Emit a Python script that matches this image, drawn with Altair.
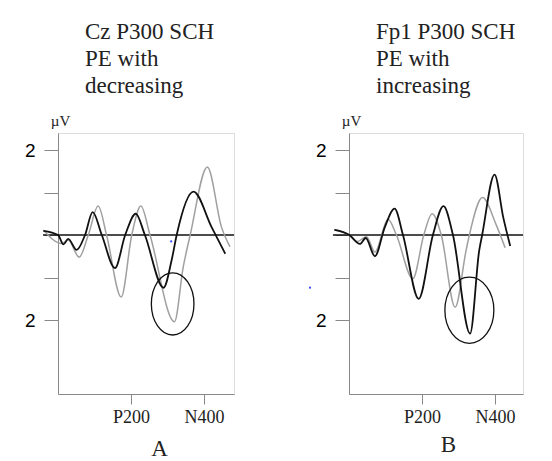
import altair as alt
import pandas as pd

# ---- Panel A (Cz) : time in ms, amplitude in µV ----
a_black_t = [-40, 0, 15, 28, 51, 74, 95, 120, 156, 184, 213, 238, 289, 311, 325, 371, 421, 458]
a_black_v = [0.10, 0.0, -0.22, -0.09, -0.35, 0.0, 0.54, 0.0, -0.78, 0.0, 0.50, 0.0, -1.24, -0.6, 0.0, 1.02, 0.18, -0.44]
a_gray_t = [-40, 10, 28, 58, 83, 110, 133, 173, 202, 227, 252, 319, 343, 362, 409, 448, 471]
a_gray_v = [0.12, -0.2, -0.12, -0.52, 0.0, 0.68, 0.0, -1.46, 0.0, 0.68, 0.0, -2.04, -0.75, 0.0, 1.6, 0.18, -0.28]

# ---- Panel B (Fp1) ----
b_black_t = [-40, 1, 30, 46, 71, 98, 125, 148, 191, 230, 259, 285, 332, 357, 365, 399, 423, 442]
b_black_v = [0.12, 0.0, -0.21, -0.07, -0.50, 0.18, 0.62, 0.0, -1.50, 0.0, 0.68, 0.0, -2.32, -0.36, 0.0, 1.42, 0.41, -0.26]
b_gray_t = [-40, 1, 23, 48, 71, 107, 130, 175, 205, 228, 253, 291, 321, 330, 366, 403, 428]
b_gray_v = [0.13, 0.0, -0.15, -0.04, -0.40, 0.37, 0.0, -1.03, 0.0, 0.50, 0.0, -1.70, -0.36, 0.0, 0.88, 0.25, -0.30]

titles = [["Cz P300 SCH", "PE with", "decreasing"], ["Fp1 P300 SCH", "PE with", "increasing"]]
panel_letters = ["A", "B"]
x_ticks = [200, 400]
x_tick_labels = ["P200", "N400"]
y_ticks = [-2, -1, 0, 1, 2]
x_max = [482, 477]
zero_start = [-41, -44]
ellipse_t = [314, 330]
ellipse_v = [-1.62, -1.77]
ellipse_size = [1815, 2400]
ellipse_ratio = [1.46, 1.35]
dot_t = [310, -107]
dot_v = [-0.15, -1.24]
letter_x = [101, 99]
letter_y = [61, 57]

Y_DOMAIN = [-3.74, 2.4]
SERIF = "Liberation Serif"


def panel(i, bt, bv, gt, gv, width):
    xs = alt.Scale(domain=[0, x_max[i]], nice=False, zero=False)
    ys = alt.Scale(domain=Y_DOMAIN, nice=False, zero=False)
    label_expr = f"datum.value == {x_ticks[0]} ? '{x_tick_labels[0]}' : '{x_tick_labels[1]}'"
    xaxis = alt.Axis(values=x_ticks, labelExpr=label_expr, title=panel_letters[i],
                     tickSize=10, labelPadding=4, labelFont=SERIF, labelFontSize=18,
                     labelColor="#222", titleFont=SERIF, titleFontSize=23,
                     titleFontWeight="normal", titleColor="#222", titleX=letter_x[i], titleY=letter_y[i],
                     titleAlign="center", titleBaseline="alphabetic", grid=False)
    yaxis = alt.Axis(values=y_ticks, labelExpr="abs(datum.value) == 2 ? '2' : ''", title="µV",
                     tickSize=14, labelPadding=9, labelFont="Liberation Sans", labelFontSize=19,
                     labelColor="#000", titleAngle=0, titleFont=SERIF, titleFontSize=15,
                     titleFontWeight="normal", titleColor="#222", titleX=2, titleY=-8,
                     titleAlign="center", titleBaseline="alphabetic", grid=False)

    zero_df = pd.DataFrame({"t": [zero_start[i]], "t2": [x_max[i]], "v": [0.0]})
    zero = alt.Chart(zero_df).mark_rule(color="#111", strokeWidth=1.5, clip=False).encode(
        x=alt.X("t:Q", scale=xs, axis=xaxis), x2="t2:Q",
        y=alt.Y("v:Q", scale=ys, axis=yaxis))

    gdf = pd.DataFrame({"t": gt, "v": gv})
    bdf = pd.DataFrame({"t": bt, "v": bv})
    gray = alt.Chart(gdf).mark_line(color="#a0a0a0", strokeWidth=1.5, interpolate="monotone", clip=False).encode(
        x=alt.X("t:Q", scale=xs), y=alt.Y("v:Q", scale=ys))
    black = alt.Chart(bdf).mark_line(color="#111", strokeWidth=1.8, interpolate="monotone", clip=False).encode(
        x=alt.X("t:Q", scale=xs), y=alt.Y("v:Q", scale=ys))

    r = ellipse_ratio[i]
    path = f"M -1 0 A 1 {r} 0 1 1 1 0 A 1 {r} 0 1 1 -1 0 Z"
    edf = pd.DataFrame({"t": [ellipse_t[i]], "v": [ellipse_v[i]]})
    ell = alt.Chart(edf).mark_point(shape=path, size=ellipse_size[i], filled=False, stroke="#111",
                                    strokeWidth=1.3, opacity=1, clip=False).encode(
        x=alt.X("t:Q", scale=xs), y=alt.Y("v:Q", scale=ys))

    ddf = pd.DataFrame({"t": [dot_t[i]], "v": [dot_v[i]]})
    dot = alt.Chart(ddf).mark_point(shape="circle", size=5, filled=True, color="#3a4cff",
                                    opacity=1, clip=False).encode(
        x=alt.X("t:Q", scale=xs), y=alt.Y("v:Q", scale=ys))

    title = alt.TitleParams(text=titles[i], anchor="start", frame="group", dx=27,
                            font=SERIF, fontSize=23, fontWeight="normal",
                            lineHeight=27, color="#222", offset=15)
    return alt.layer(zero, gray, black, ell, dot).properties(width=width, height=261, title=title)


pa = panel(0, a_black_t, a_black_v, a_gray_t, a_gray_v, 176)
pb = panel(1, b_black_t, b_black_v, b_gray_t, b_gray_v, 174)

chart = alt.hconcat(pa, pb, spacing=115, bounds="flush").properties(
    padding={"left": 15, "top": 12, "right": 5, "bottom": 0}
).configure_view(stroke=None).configure_axis(
    domainColor="#111", domainWidth=1.6, tickColor="#111", tickWidth=1.6
).configure_title(
    font=SERIF, fontSize=23, fontWeight="normal", color="#222"
).configure(background="white")

chart.save("out.html", embed_options={"renderer": "svg", "actions": False})
